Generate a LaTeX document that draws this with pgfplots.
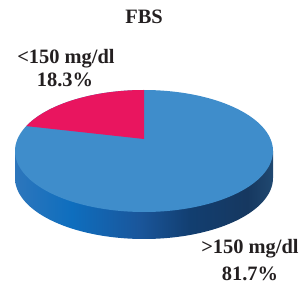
\documentclass[border=0pt]{standalone}
\usepackage{pgfplots}
\pgfplotsset{compat=1.18}
\usepackage{pgfplotstable}
\usepackage{fontspec}
\setmainfont{Liberation Serif}
\definecolor{topblue}{RGB}{63,141,203}
\definecolor{slicepink}{RGB}{233,21,95}
\definecolor{txt}{RGB}{35,31,32}
\definecolor{sA}{RGB}{45,118,188}
\definecolor{sB}{RGB}{14,110,190}
\definecolor{sC}{RGB}{26,86,155}
\definecolor{sD}{RGB}{18,62,112}
\definecolor{sE}{RGB}{22,56,96}
\definecolor{sF}{RGB}{32,72,112}
\pgfdeclarehorizontalshading{sideband}{100bp}{color(0bp)=(sA); color(25bp)=(sA); color(36bp)=(sB); color(49bp)=(sC); color(59bp)=(sD); color(70bp)=(sE); color(75bp)=(sF); color(100bp)=(sF)}
\pgfplotstableread{
label share
lt 18.3
gt 81.7
}\piedata
\begin{document}
\begin{tikzpicture}
\pgfplotstablegetelem{0}{share}\of\piedata
\pgfmathsetmacro{\angA}{90+3.6*\pgfplotsretval}
\begin{axis}[
  scale only axis, width=304bp, height=284bp,
  xmin=0, xmax=304, ymin=0, ymax=284,
  enlargelimits=false, hide axis, clip=false]
% side band
\addplot[draw=none, shading=sideband, domain=180:360, samples=120]
  ({144+129*cos(x)}, {106+61*sin(x)}) -- (axis cs:273,133) -- (axis cs:15,133) -- cycle;
% top ellipse (blue slice)
\addplot[draw=none, fill=topblue, domain=0:360, samples=200]
  ({144+129*cos(x)}, {133+61*sin(x)}) -- cycle;
% pink slice
\addplot[draw=none, fill=slicepink, domain=90:\angA, samples=60]
  ({144+129*cos(x)}, {133+61*sin(x)}) -- (axis cs:144,145) -- cycle;
\path (axis cs:0,0) rectangle (axis cs:304,284);
\begin{scope}[every node/.style={anchor=base, inner sep=0pt, text=txt, font=\bfseries\fontsize{20.5}{24}\selectfont}]
\node at (axis cs:144,260) {FBS};
\node at (axis cs:66,220) {<150 mg/dl};
\node at (axis cs:65,197) {18.3\%};
\node at (axis cs:250,31) {>150 mg/dl};
\node at (axis cs:250,4) {81.7\%};
\end{scope}
\end{axis}
\end{tikzpicture}
\end{document}
